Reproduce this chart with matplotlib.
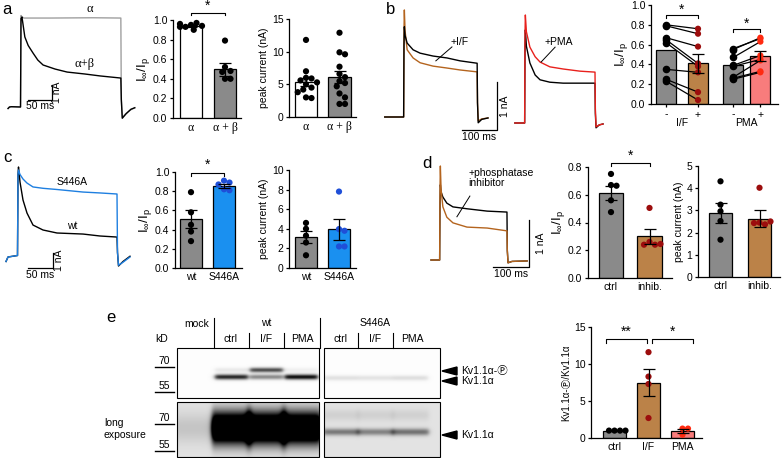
import numpy as np
import matplotlib
matplotlib.use("Agg")
import matplotlib.pyplot as plt
from matplotlib.patches import Polygon, Rectangle

plt.rcParams['font.family'] = ['Liberation Sans', 'DejaVu Sans', 'Noto Sans CJK JP']
plt.rcParams['mathtext.fontset'] = 'custom'
plt.rcParams['mathtext.rm'] = 'Liberation Sans'
plt.rcParams['mathtext.it'] = 'Liberation Sans'

# ---------------- data ----------------
# panel a, example traces (ms, nA)
a_alpha_t = [-27, -24, -20, -1, 0, 2, 6, 60, 150, 208, 209, 211, 218, 228, 237]
a_alpha_i = [-0.1, 0.0, 0.02, 0.0, 6.1, 6.0, 5.93, 5.93, 5.95, 5.93, 0.5, -0.7, -0.45, -0.2, -0.05]
a_ab_t = [-27, -24, -20, -1, 0, 2, 8, 15, 25, 35, 46, 71, 96, 133, 165, 208, 209, 211, 219, 229, 237]
a_ab_i = [-0.1, 0.0, 0.02, 0.0, 5.9, 6.0, 4.67, 4.1, 3.6, 3.13, 2.8, 2.53, 2.33, 2.2, 2.07, 1.93,
          0.5, -0.75, -0.45, -0.15, -0.05]
a_ratio_alpha = [0.95, 0.97, 0.93, 0.94, 0.96, 0.90, 0.93]
a_ratio_ab = [0.79, 0.52, 0.48, 0.40, 0.40, 0.47]
a_ratio_mean = [0.935, 0.495]
a_ratio_sem = [0.01, 0.065]
a_peak_alpha = [11.8, 7.0, 6.0, 5.9, 5.6, 5.3, 5.0, 4.5, 4.2, 3.8, 3.0, 2.9]
a_peak_ab = [12.9, 9.9, 9.6, 7.7, 6.6, 6.1, 5.5, 5.2, 4.7, 3.6, 3.0, 2.0, 2.0]
a_peak_mean = [5.3, 6.1]
a_peak_sem = [0.6, 0.9]

# panel b, traces
b_t1 = [-55, -1, 0, 1, 3, 9, 26, 46, 83, 123, 160, 209, 210, 212, 222, 240]
b_ctrl1 = [0, 0, 1.5, 1.88, 1.7, 1.54, 1.40, 1.33, 1.27, 1.23, 1.17, 1.12, 0.3, -0.12, -0.05, -0.02]
b_if = [0, 0, 1.8, 2.23, 1.8, 1.40, 1.23, 1.13, 1.06, 1.02, 0.98, 0.94, 0.3, -0.08, -0.04, -0.02]
b_t2 = [-29, -1, 0, 1, 4, 14, 29, 43, 71, 109, 157, 200, 201, 203, 212, 223]
b_ctrl2 = [0, 0, 1.5, 1.94, 1.6, 1.25, 1.0, 0.90, 0.85, 0.83, 0.83, 0.83, 0.2, -0.1, -0.04, -0.02]
b_pma = [0, 0, 1.8, 2.25, 1.9, 1.58, 1.38, 1.27, 1.17, 1.125, 1.08, 1.06, 0.3, -0.08, -0.04, -0.02]
b_if_pre = [0.80, 0.79, 0.67, 0.65, 0.62, 0.35, 0.25, 0.23]
b_if_post = [0.76, 0.71, 0.58, 0.41, 0.38, 0.32, 0.12, 0.04]
b_pma_pre = [0.56, 0.55, 0.47, 0.39, 0.38, 0.27, 0.26, 0.25]
b_pma_post = [0.66, 0.67, 0.63, 0.49, 0.45, 0.44, 0.33, 0.32]
b_mean = [0.545, 0.41, 0.395, 0.485]
b_sem = [0, 0.095, 0, 0.055]

# panel c
c_t = [-24, -20, -1, 0, 1, 4, 10, 18, 30, 50, 78, 130, 164, 198, 199, 201, 210, 224]
c_wt = [-0.3, 0.0, 0.1, 5.5, 6.0, 5.0, 3.8, 2.93, 2.13, 1.8, 1.6, 1.53, 1.4, 1.33, 0.3, -0.6, -0.3, 0.05]
c_s446a = [-0.3, 0.0, 0.1, 5.5, 5.8, 5.5, 5.2, 4.93, 4.67, 4.58, 4.5, 4.33, 4.27, 4.2, 0.3, -0.55, -0.35, 0.0]
c_ratio_wt = [0.79, 0.58, 0.45, 0.38, 0.28]
c_ratio_s = [0.91, 0.89, 0.87, 0.82, 0.81]
c_ratio_mean = [0.51, 0.85]
c_ratio_sem = [0.09, 0.02]
c_peak_wt = [4.6, 4.0, 3.3, 2.6, 1.3]
c_peak_s = [7.8, 3.97, 3.8, 2.2, 2.2]
c_peak_mean = [3.15, 3.95]
c_peak_sem = [0.6, 1.05]

# panel d
d_t = [-25, -1, 0, 1, 3, 8, 19, 36, 75, 131, 186, 187, 189, 200, 242]
d_ctrl = [0, 0, 1.2, 1.6, 1.45, 1.34, 1.21, 1.13, 1.09, 1.04, 1.02, 0.2, -0.06, -0.03, -0.02]
d_inhib = [0, 0, 1.5, 2.0, 1.5, 1.13, 0.91, 0.79, 0.70, 0.68, 0.62, 0.2, -0.06, -0.03, -0.02]
d_ratio_ctrl = [0.75, 0.67, 0.665, 0.56, 0.475]
d_ratio_inhib = [0.505, 0.26, 0.24, 0.24, 0.245]
d_ratio_mean = [0.615, 0.30]
d_ratio_sem = [0.05, 0.055]
d_peak_ctrl = [4.31, 3.26, 2.96, 2.52, 1.68]
d_peak_inhib = [4.02, 2.45, 2.37, 2.43, 2.5]
d_peak_mean = [2.9, 2.63]
d_peak_sem = [0.45, 0.38]

# panel e, blot band intensities (mock, ctrl, I/F, PMA) and quantification
wt_short_lower = [0.0, 0.85, 0.45, 0.95]
wt_short_upper = [0.0, 0.08, 0.7, 0.05]
s446a_short = [0.11, 0.1, 0.12]
wt_long = [0.12, 1.8, 1.8, 1.8]
s446a_long = [0.42, 0.38, 0.45]
e_ctrl = [1.0, 1.0, 1.0, 1.0]
e_if = [11.6, 8.3, 7.3, 2.7]
e_pma = [1.27, 1.27, 0.45]
e_mean = [1.0, 7.5, 0.95]
e_sem = [0.0, 1.85, 0.25]

GRAY = '#8a8a8a'
BROWN_BAR = '#bb8248'
BROWN_LINE = '#b4641e'
BLUE_LINE = '#1e7fe0'
BLUE_BAR = '#1a90f0'
BLUE_DOT = '#1f4fd8'
RED_LINE = '#e8211d'
SALMON = '#f87c7c'
DARKRED = '#9c0d0d'
RED_DOT = '#ff2a10'
RATIO_LABEL = r'I$_{\infty}$/I$_{\rm p}$'

W, H = 782, 458
fig = plt.figure(figsize=(W / 100, H / 100), dpi=100)


def px_axes(l, t, r, b):
    ax = fig.add_axes([l / W, 1 - b / H, (r - l) / W, (b - t) / H])
    ax.set_facecolor('none')
    return ax


# overlay axes in pixel coordinates for labels and blots
ov = fig.add_axes([0, 0, 1, 1])
ov.set_xlim(0, W)
ov.set_ylim(H, 0)
ov.axis('off')


def trace_axes(box, x_zero, px_ms, y_zero, px_na):
    l, t, r, b = box
    ax = px_axes(l, t, r, b)
    ax.set_xlim((l - x_zero) / px_ms, (r - x_zero) / px_ms)
    ax.set_ylim((y_zero - b) / px_na, (y_zero - t) / px_na)
    ax.axis('off')
    return ax


def scale_bar(ax, x0, y0, ms, ms_label, na_dx, dy):
    ax.plot([x0, x0 + ms, x0 + ms], [y0, y0, y0 + 1], color='black', lw=0.9, clip_on=False)
    ax.text(x0 + ms / 2, y0 - dy, ms_label, ha='center', va='top', fontsize=7.5)
    ax.text(x0 + ms + na_dx, y0 + 0.5, '1 nA', rotation=90, ha='center', va='center', fontsize=7.5)


def swarm_offsets(vals, ypx, xpx, r=5.5):
    placed, offs = [], []
    for v in vals:
        yp = v * ypx
        for k in [0, 1, -1, 2, -2, 3, -3, 4, -4]:
            xp = k * r / 2
            if all((xp - a) ** 2 + (yp - b) ** 2 >= r ** 2 for a, b in placed):
                break
        placed.append((xp, yp))
        offs.append(xp / xpx)
    return offs


def bar_axes(spine_x, top_y, bottom_y, right_x, first_x, spacing, ymax, yticks, fmt):
    ax = px_axes(spine_x, top_y, right_x, bottom_y)
    ax.set_xlim((spine_x - first_x) / spacing, (right_x - first_x) / spacing)
    ax.set_ylim(0, ymax)
    ax.set_yticks(yticks)
    ax.set_yticklabels([fmt.format(v) for v in yticks])
    for s in ['top', 'right']:
        ax.spines[s].set_visible(False)
    for s in ['left', 'bottom']:
        ax.spines[s].set_linewidth(0.9)
    ax.tick_params(axis='y', direction='out', length=2.5, width=0.9, labelsize=7.5, pad=1.5)
    ax.tick_params(axis='x', length=0, labelsize=7.5, pad=3)
    ax.px = (spacing, (bottom_y - top_y) / ymax)
    return ax


def bars(ax, means, sems, groups, fills, dot_colors, width, labels, label_font=None):
    pos = np.arange(len(means))
    ax.bar(pos, means, width, color=fills, edgecolor='black', linewidth=0.9, zorder=1)
    for p, m, s, g, dc in zip(pos, means, sems, groups, dot_colors):
        offs = swarm_offsets(g, ax.px[1], ax.px[0])
        ax.scatter(p + np.array(offs), g, s=20, color=dc, edgecolor='none', zorder=4, clip_on=False)
        if s > 0:
            ax.errorbar([p], [m], yerr=[s], fmt='none', ecolor='black', elinewidth=0.9,
                        capsize=4, capthick=0.9, zorder=5)
    ax.set_xticks(pos)
    ax.set_xticklabels(labels)
    if label_font:
        for t in ax.get_xticklabels():
            t.set_family(label_font)
            t.set_fontsize(8.5)


def bracket(ax, x0, x1, y, drop, text, tdy):
    ax.plot([x0, x0, x1, x1], [y - drop, y, y, y - drop], color='black', lw=0.8, clip_on=False)
    ax.text((x0 + x1) / 2, y + tdy, text, ha='center', va='center', fontsize=10)


# ---------------- panel a ----------------
ax = trace_axes((5, 8, 142, 125), 21, 0.48, 107, 15)
ax.plot(a_alpha_t, a_alpha_i, color='#a0a0a0', lw=1.0)
ax.plot(a_ab_t, a_ab_i, color='black', lw=1.0)
scale_bar(ax, 14.6, 0.47, 50, '50 ms', 10, 0.08)
ax.text(144, 6.5, 'α', family='Liberation Serif', fontsize=9, ha='center', va='center')
ax.text(133, 2.85, 'α+β', family='Liberation Serif', fontsize=9, ha='center', va='center')

ax = bar_axes(173, 20, 118, 241, 191, 34, 1.0, [0, 0.2, 0.4, 0.6, 0.8, 1.0], '{:.1f}')
bars(ax, a_ratio_mean, a_ratio_sem, [a_ratio_alpha, a_ratio_ab], ['white', GRAY],
     ['black', 'black'], 0.62, ['α', 'α + β'], 'Liberation Serif')
ax.set_ylabel(RATIO_LABEL, fontsize=9.5, labelpad=1)
bracket(ax, 0, 1, 1.075, 0.025, '*', 0.065)

ax = bar_axes(289, 19, 117, 356, 306, 33.5, 15, [0, 5, 10, 15], '{:.0f}')
bars(ax, a_peak_mean, a_peak_sem, [a_peak_alpha, a_peak_ab], ['white', GRAY],
     ['black', 'black'], 0.66, ['α', 'α + β'], 'Liberation Serif')
ax.set_ylabel('peak current (nA)', fontsize=7.5, labelpad=2)

# ---------------- panel b ----------------
ax = trace_axes((380, 5, 512, 145), 404, 0.35, 117, 48)
ax.plot(b_t1, b_if, color=BROWN_LINE, lw=1.0)
ax.plot(b_t1, b_ctrl1, color='black', lw=1.0)
scale_bar(ax, 165.7, -0.27, 100, '100 ms', 22, 0.04)
ax.plot([137, 91], [1.46, 1.17], color='black', lw=0.7)
ax.text(160, 1.56, '+I/F', fontsize=7.5, ha='center', va='center')

ax = trace_axes((512, 5, 612, 145), 525, 0.35, 123, 48)
ax.plot(b_t2, b_ctrl2, color='black', lw=1.0)
ax.plot(b_t2, b_pma, color=RED_LINE, lw=1.0)
ax.plot([86, 46], [1.58, 1.27], color='black', lw=0.7)
ax.text(97, 1.69, '+PMA', fontsize=7.5, ha='center', va='center')

ax = bar_axes(651, 5, 104, 778, 666, 32, 1.0, [0, 0.2, 0.4, 0.6, 0.8, 1.0], '{:.1f}')
bpos = [0, 1, 2.1, 2.95]
ax.bar(bpos, b_mean, 0.62, color=[GRAY, BROWN_BAR, GRAY, SALMON], edgecolor='black', linewidth=0.9, zorder=1)
for pre, post, p0, p1, c in [(b_if_pre, b_if_post, 0, 1, DARKRED), (b_pma_pre, b_pma_post, 2.1, 2.95, RED_DOT)]:
    for a, b in zip(pre, post):
        ax.plot([p0, p1], [a, b], color='black', lw=0.9, zorder=3)
    ax.scatter([p0] * len(pre), pre, s=20, color='black', zorder=4, clip_on=False)
    ax.scatter([p1] * len(post), post, s=20, color=c, edgecolor='none', zorder=4, clip_on=False)
for p, m, s in zip(bpos, b_mean, b_sem):
    if s > 0:
        ax.errorbar([p], [m], yerr=[s], fmt='none', ecolor='black', elinewidth=0.9,
                    capsize=4, capthick=0.9, zorder=5)
ax.set_xticks(bpos)
ax.set_xticklabels(['-', '+', '-', '+'])
ax.tick_params(axis='x', length=2.5, width=0.9, pad=1.5)
ax.text(0.5, -0.19, 'I/F', ha='center', va='center', fontsize=7.5)
ax.text(2.525, -0.19, 'PMA', ha='center', va='center', fontsize=7.5)
ax.set_ylabel(RATIO_LABEL, fontsize=9.5, labelpad=1)
bracket(ax, 0, 1, 0.90, 0.03, '*', 0.055)
bracket(ax, 2.1, 2.95, 0.76, 0.03, '*', 0.055)

# ---------------- panel c ----------------
ax = trace_axes((5, 155, 142, 285), 18, 0.5, 257, 15)
ax.plot(c_t, c_wt, color='black', lw=1.0)
ax.plot(c_t, c_s446a, color=BLUE_LINE, lw=1.0)
scale_bar(ax, 20, -0.73, 50, '50 ms', 12, 0.15)
ax.text(108, 5.0, 'S446A', fontsize=7.5, ha='center', va='center')
ax.text(108, 2.07, 'wt', fontsize=7.5, ha='center', va='center')

ax = bar_axes(175, 172, 268, 242, 191, 33, 1.0, [0, 0.2, 0.4, 0.6, 0.8, 1.0], '{:.1f}')
bars(ax, c_ratio_mean, c_ratio_sem, [c_ratio_wt, c_ratio_s], [GRAY, BLUE_BAR],
     ['black', BLUE_DOT], 0.67, ['wt', 'S446A'])
ax.set_ylabel(RATIO_LABEL, fontsize=9.5, labelpad=1)
bracket(ax, 0, 1, 0.99, 0.03, '*', 0.08)

ax = bar_axes(289, 170, 268, 356, 306, 33, 10, [0, 2, 4, 6, 8, 10], '{:.0f}')
bars(ax, c_peak_mean, c_peak_sem, [c_peak_wt, c_peak_s], [GRAY, BLUE_BAR],
     ['black', BLUE_DOT], 0.66, ['wt', 'S446A'])
ax.set_ylabel('peak current (nA)', fontsize=7.5, labelpad=2)

# ---------------- panel d ----------------
ax = trace_axes((425, 155, 545, 285), 440, 0.36, 260, 47)
ax.plot(d_t, d_ctrl, color='black', lw=1.0)
ax.plot(d_t, d_inhib, color=BROWN_LINE, lw=1.0)
scale_bar(ax, 147, -0.15, 100, '100 ms', 33, 0.05)
ax.plot([83, 47], [1.36, 0.92], color='black', lw=0.7)
ax.text(78, 1.75, '+phosphatase\ninhibitor', fontsize=7.5, ha='left', va='center', linespacing=1.0)

ax = bar_axes(588, 167, 278, 672, 611, 38.5, 0.8, [0, 0.2, 0.4, 0.6, 0.8], '{:.1f}')
bars(ax, d_ratio_mean, d_ratio_sem, [d_ratio_ctrl, d_ratio_inhib], [GRAY, BROWN_BAR],
     ['black', DARKRED], 0.63, ['ctrl', 'inhib.'])
ax.set_ylabel(RATIO_LABEL, fontsize=9.5, labelpad=1)
bracket(ax, 0, 1, 0.83, 0.025, '*', 0.05)

ax = bar_axes(698, 166, 277, 780, 720.5, 39, 5, [0, 1, 2, 3, 4, 5], '{:.0f}')
bars(ax, d_peak_mean, d_peak_sem, [d_peak_ctrl, d_peak_inhib], [GRAY, BROWN_BAR],
     ['black', DARKRED], 0.59, ['ctrl', 'inhib.'])
ax.set_ylabel('peak current (nA)', fontsize=7.5, labelpad=2)

# ---------------- panel e: blots ----------------
def blot(x0, x1, y0, y1, lanes, bands, bg, inset=3):
    xs = np.linspace(x0, x1, (x1 - x0) * 2)
    ys = np.linspace(y0, y1, (y1 - y0) * 2)
    X, Y = np.meshgrid(xs, ys)
    dens = np.full(X.shape, bg)
    for (lx0, lx1), lane_bands in zip(lanes, bands):
        lane = 0.5 * (np.tanh((X - lx0 - inset) / 2.5) - np.tanh((X - lx1 + inset) / 2.5))
        for yc, amp, sig in lane_bands:
            dens = dens + amp * lane * np.exp(-((Y - yc) / sig) ** 2)
    img = 1 - np.clip(dens, 0, 1)
    ov.imshow(img, cmap='gray', vmin=0, vmax=1, extent=(x0, x1, y1, y0),
              aspect='auto', interpolation='bilinear', zorder=1)
    ov.add_patch(Rectangle((x0, y0), x1 - x0, y1 - y0, fill=False, lw=0.8, edgecolor='black', zorder=2))


wt_lanes = [(177, 214), (214, 249), (249, 284), (284, 319)]
s_lanes = [(324, 358), (358, 393), (393, 428)]
blot(177, 319, 348, 398, wt_lanes,
     [[(377, lo, 2.6), (370, up, 2.4)] for lo, up in zip(wt_short_lower, wt_short_upper)], 0.01, 1)
blot(324, 440, 348, 398, s_lanes, [[(378, v, 2.6)] for v in s446a_short], 0.01, 0)
blot(177, 319, 402, 457, wt_lanes, [[(428, v, 15)] for v in wt_long], 0.11, -2)
blot(324, 440, 402, 457, s_lanes, [[(432, v, 3.5), (415, 0.07, 6)] for v in s446a_long], 0.11, -1)

lab = dict(fontsize=7.5, ha='center', va='center')
ov.text(197, 324, 'mock', **lab)
ov.text(266, 323, 'wt', **lab)
ov.text(375, 323, 'S446A', **lab)
ov.text(162, 339, 'kD', **lab)
for x, t in [(231, 'ctrl'), (266, 'I/F'), (302, 'PMA'), (341, 'ctrl'), (375, 'I/F'), (412, 'PMA')]:
    ov.text(x, 339, t, **lab)
for x, y0 in [(214, 318), (320, 318), (249, 333), (284, 333), (358, 333), (393, 333)]:
    ov.plot([x, x], [y0, 348], color='black', lw=0.8)
for y, t in [(361, '70'), (386, '55'), (418, '70'), (445, '55')]:
    ov.text(164, y, t, **lab)
    ov.plot([155, 174], [y + 5.5, y + 5.5], color='black', lw=1.0)
ov.text(104, 429, 'long\nexposure', fontsize=7.5, ha='left', va='center', linespacing=1.25)
for y, t in [(371, 'Kv1.1α-Ⓟ'), (381, 'Kv1.1α'), (435, 'Kv1.1α')]:
    ov.add_patch(Polygon([(442, y), (457, y - 4), (457, y + 4)], closed=True, color='black'))
    ov.text(461, y, t, fontsize=7.5, ha='left', va='center')

for x, y, t in [(2, 9, 'a'), (386, 9, 'b'), (3, 158, 'c'), (422, 163, 'd'), (106, 317, 'e')]:
    ov.text(x, y, t, fontsize=12, ha='left', va='center')

# panel e quantification
ax = bar_axes(591, 327, 438, 702, 614.5, 34, 15, [0, 5, 10, 15], '{:.0f}')
bars(ax, e_mean, e_sem, [e_ctrl, e_if, e_pma], [GRAY, BROWN_BAR, SALMON],
     ['black', DARKRED, RED_DOT], 0.68, ['ctrl', 'I/F', 'PMA'])
ax.set_ylabel('Kv1.1α-Ⓟ/Kv1.1α', fontsize=7, labelpad=2)
bracket(ax, -0.25, 0.95, 13.4, 0.5, '**', 0.9)
bracket(ax, 1.1, 2.3, 13.4, 0.5, '*', 0.9)

fig.savefig('out.png', dpi=100)
